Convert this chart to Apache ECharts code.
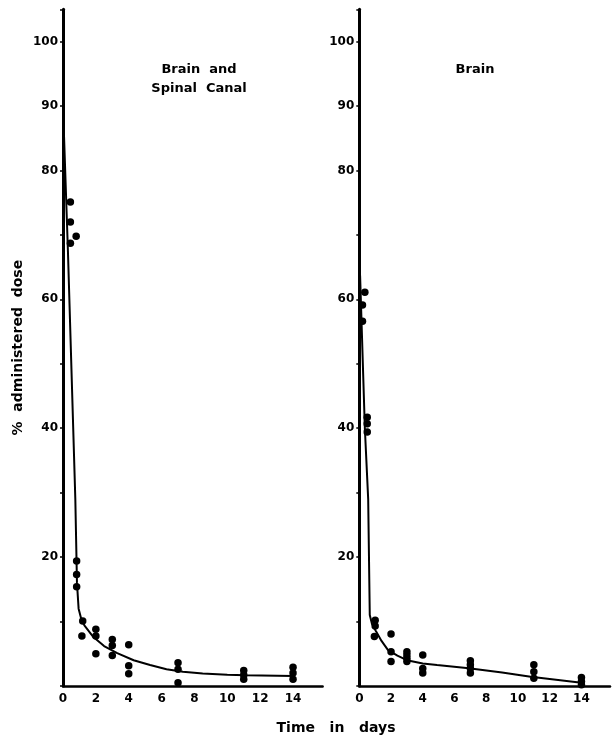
<!DOCTYPE html>
<html>
<head>
<meta charset="utf-8">
<script src="https://cdn.jsdelivr.net/npm/echarts@6/dist/echarts.min.js"></script>
<style>
  html, body { margin: 0; padding: 0; background: #fff; }
  #chart { width: 613px; height: 736px; }
</style>
</head>
<body>
<div id="chart"></div>
<script>
// ---- Data ----
const panelTitles = ['Brain  and\nSpinal  Canal', 'Brain'];
const xTickLabels = [0, 2, 4, 6, 8, 10, 12, 14];
const yLabelledTicks = [20, 40, 60, 80, 90, 100];

// Left panel: Brain and Spinal Canal — observed points
const leftDays   = [0.45, 0.45, 0.45, 0.8, 0.83, 0.83, 0.83, 1.2, 1.15, 2, 2, 2, 3, 3, 3, 4, 4, 4, 7, 7, 7, 11, 11, 11, 14, 14, 14];
const leftValues = [75.1, 72.0, 68.7, 69.8, 19.4, 17.3, 15.4, 10.1, 7.75, 8.8, 7.75, 5.0, 7.2, 6.3, 4.75, 6.4, 3.15, 1.9, 3.6, 2.6, 0.5, 2.4, 1.7, 1.05, 2.9, 2.0, 1.05];
// Left panel fitted curve
const leftCurveDays   = [0, 0.3, 0.75, 0.85, 0.95, 1.1, 1.3, 1.85, 2.5, 3.3, 4.3, 5.3, 6.3, 7.3, 8.5, 10, 11.1, 14];
const leftCurveValues = [90, 67.5, 29, 16, 12, 10.5, 9.4, 7.6, 6.2, 5.1, 4.0, 3.25, 2.6, 2.2, 1.95, 1.75, 1.65, 1.55];

// Right panel: Brain — observed points
const rightDays   = [0.35, 0.2, 0.2, 0.5, 0.5, 0.5, 1.0, 1.0, 0.95, 2, 2, 2, 3, 3, 3, 3, 4, 4, 4, 7, 7, 7, 7, 11, 11, 11, 14, 14, 14];
const rightValues = [61.1, 59.1, 56.6, 41.7, 40.7, 39.4, 10.2, 9.3, 7.7, 8.06, 5.3, 3.8, 5.3, 4.8, 4.3, 3.8, 4.8, 2.7, 2.0, 3.9, 3.3, 2.7, 2.0, 3.3, 2.2, 1.2, 1.3, 0.7, 0.2];
// Right panel fitted curve
const rightCurveDays   = [0.05, 0.35, 0.56, 0.66, 0.8, 1.07, 1.4, 1.8, 2.4, 3.0, 4.0, 4.9, 6.9, 9, 10.8, 14];
const rightCurveValues = [63.7, 40, 29, 11, 9.6, 8.4, 7.0, 5.6, 4.7, 4.0, 3.5, 3.25, 2.74, 2.1, 1.45, 0.5];

const zip = (a, b) => a.map((v, i) => [v, b[i]]);

const FONT = '"DejaVu Sans", sans-serif';
const chart = echarts.init(document.getElementById('chart'), null, { renderer: 'canvas' });

function xAxisFor(gridIndex) {
  return {
    type: 'value', gridIndex, min: 0, max: 15.8, interval: 2,
    splitLine: { show: false },
    axisLine: { lineStyle: { color: '#000', width: 2.5 } },
    axisTick: { show: false },
    axisLabel: {
      color: '#000', fontFamily: FONT, fontWeight: 'bold', fontSize: 12, margin: 7,
      formatter: v => (xTickLabels.indexOf(v) >= 0 ? String(v) : '')
    }
  };
}
function yAxisFor(gridIndex, withName) {
  const ax = {
    type: 'value', gridIndex, min: 0, max: 105, interval: 10,
    splitLine: { show: false },
    axisLine: { show: true, lineStyle: { color: '#000', width: 3 } },
    axisTick: { show: true, length: 3, lineStyle: { color: '#000', width: 1.5 } },
    axisLabel: {
      color: '#000', fontFamily: FONT, fontWeight: 'bold', fontSize: 12, margin: 5,
      formatter: v => (yLabelledTicks.indexOf(v) >= 0 ? String(v) : '')
    }
  };
  if (withName) {
    ax.name = '%  administered  dose';
    ax.nameLocation = 'middle';
    ax.nameRotate = 90;
    ax.nameGap = 38;
    ax.nameTextStyle = { color: '#000', fontFamily: FONT, fontWeight: 'bold', fontSize: 14 };
  }
  return ax;
}

const option = {
  backgroundColor: '#fff',
  animation: false,
  grid: [
    { left: 63, top: 9.3, width: 259.6, height: 676.7 },
    { left: 359.3, top: 9.3, width: 256, height: 676.7 }
  ],
  xAxis: [xAxisFor(0), xAxisFor(1)],
  yAxis: [yAxisFor(0, true), yAxisFor(1, false)],
  graphic: [
    { type: 'text', x: 199, y: 79, style: { text: panelTitles[0], font: 'bold 13px ' + FONT, textAlign: 'center', textVerticalAlign: 'middle', lineHeight: 19, fill: '#000' } },
    { type: 'text', x: 475, y: 70, style: { text: panelTitles[1], font: 'bold 13px ' + FONT, textAlign: 'center', textVerticalAlign: 'middle', fill: '#000' } },
    { type: 'text', x: 336, y: 728, style: { text: 'Time   in   days', font: 'bold 14px ' + FONT, textAlign: 'center', textVerticalAlign: 'middle', fill: '#000' } }
  ],
  series: [
    { type: 'line', xAxisIndex: 0, yAxisIndex: 0, data: zip(leftCurveDays, leftCurveValues), showSymbol: false, symbol: 'none', smooth: false, lineStyle: { color: '#000', width: 2 } },
    { type: 'scatter', xAxisIndex: 0, yAxisIndex: 0, data: zip(leftDays, leftValues), symbol: 'circle', symbolSize: 7.5, itemStyle: { color: '#000', opacity: 1 } },
    { type: 'line', xAxisIndex: 1, yAxisIndex: 1, data: zip(rightCurveDays, rightCurveValues), showSymbol: false, symbol: 'none', smooth: false, lineStyle: { color: '#000', width: 2 } },
    { type: 'scatter', xAxisIndex: 1, yAxisIndex: 1, data: zip(rightDays, rightValues), symbol: 'circle', symbolSize: 7.5, itemStyle: { color: '#000', opacity: 1 } }
  ]
};
chart.setOption(option);
</script>
</body>
</html>
